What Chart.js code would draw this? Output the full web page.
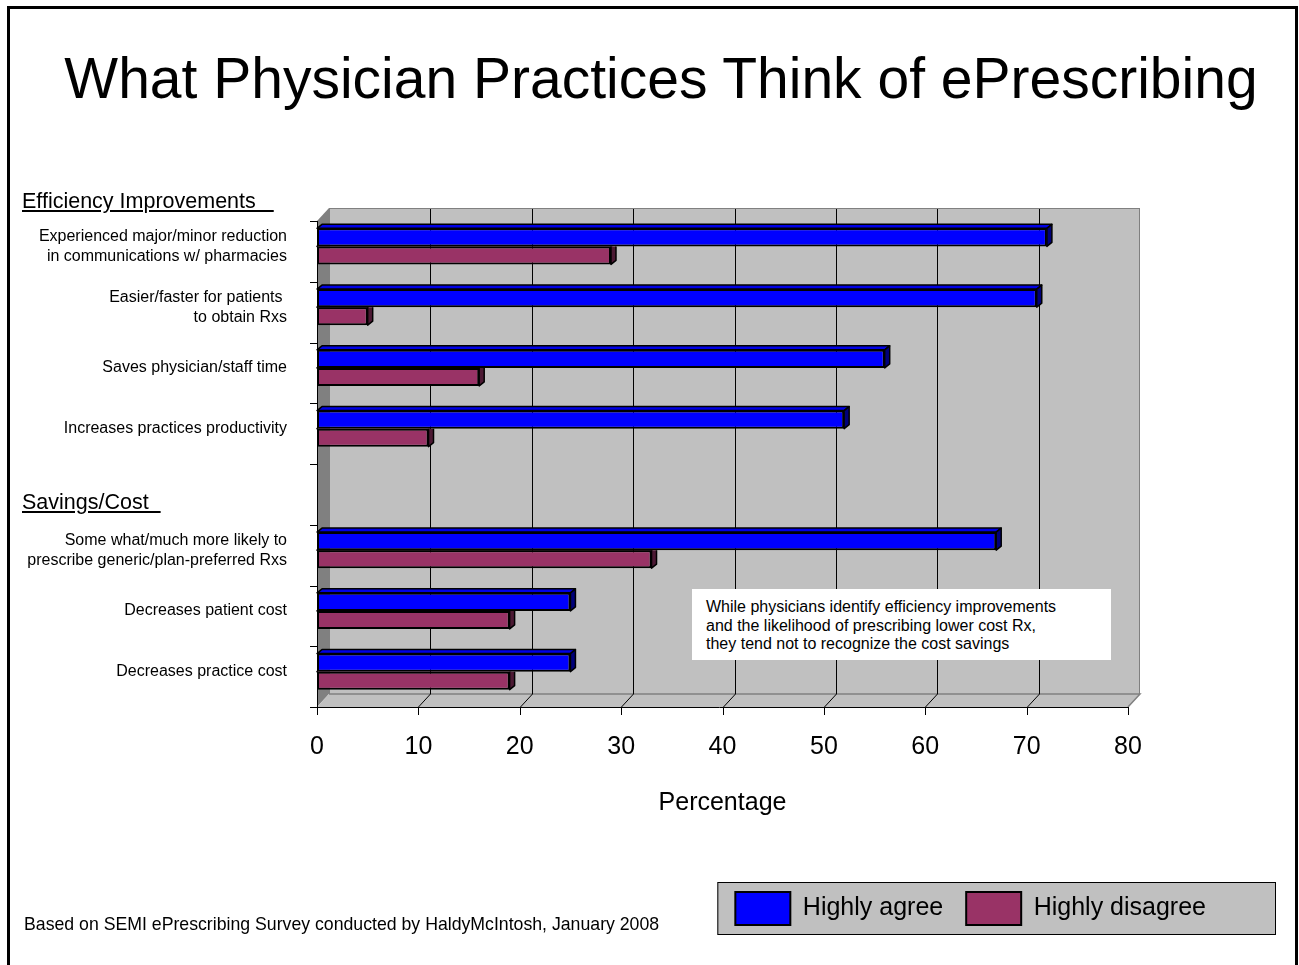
<!DOCTYPE html>
<html>
<head>
<meta charset="utf-8">
<script src="https://cdn.jsdelivr.net/npm/chart.js@4.4.1/dist/chart.umd.min.js"></script>
<style>
  html, body { margin: 0; padding: 0; background: #fff; width: 1299px; height: 965px; overflow: hidden; }
  body { position: relative; font-family: 'Liberation Sans', Arial, sans-serif; color: #000; }
  #c { position: absolute; left: 0; top: 0; }
  .ov { position: absolute; z-index: 2; white-space: pre; pointer-events: none; }
  #frame { left: 7px; top: 6px; width: 1291px; height: 1010px; border: 3px solid #000; box-sizing: border-box; }
  #title { left: 661px; top: 50px; font-size: 57px; line-height: 57px; transform: translateX(-50%); }
  .hdr { left: 22px; font-size: 21.5px; line-height: 21.5px; text-decoration: underline; }
  #foot { left: 24px; top: 915px; font-size: 17.7px; line-height: 18px; }
  #note { left: 692px; top: 589px; width: 419px; height: 71px; background: #fff; box-sizing: border-box;
          padding: 9px 0 0 14px; font-size: 16px; line-height: 18.5px; }
</style>
</head>
<body>
<canvas id="c" width="1299" height="965"></canvas>
<div id="frame" class="ov"></div>
<div id="title" class="ov">What Physician Practices Think of ePrescribing</div>
<div class="ov hdr" style="top:191px">Efficiency Improvements   </div>
<div class="ov hdr" style="top:492px">Savings/Cost  </div>
<div id="note" class="ov">While physicians identify efficiency improvements
and the likelihood of prescribing lower cost Rx,
they tend not to recognize the cost savings</div>
<div id="foot" class="ov">Based on SEMI ePrescribing Survey conducted by HaldyMcIntosh, January 2008</div>
<script>
// ---- data ----
const categories = [
  ['Experienced major/minor reduction', 'in communications w/ pharmacies'],
  ['Easier/faster for patients ', 'to obtain Rxs'],
  'Saves physician/staff time',
  'Increases practices productivity',
  '',
  ['Some what/much more likely to', 'prescribe generic/plan-preferred Rxs'],
  'Decreases patient cost',
  'Decreases practice cost'
];
const highlyAgree    = [72, 71, 56, 52, null, 67, 25, 25];
const highlyDisagree = [29,  5, 16, 11, null, 33, 19, 19];
const seriesNames = ['Highly agree', 'Highly disagree'];
const xMin = 0, xMax = 80, xStep = 10;
const xTitle = 'Percentage';

// ---- 3D look constants ----
const WALL_DX = 12, WALL_DY = 13;   // depth of the back wall
const FRONT_DY = 5;                 // front axis plane below bar plane
const BAR_DX = 5, BAR_DY = 4;       // bar depth

Chart.defaults.font.family = "'Liberation Sans', Arial, sans-serif";
Chart.defaults.color = '#000';

const threeD = {
  id: 'threeD',
  beforeDraw(chart) {
    const lg = chart.legend;
    if (!lg || !lg.legendHitBoxes || !lg.legendHitBoxes.length) return;
    const ctx = chart.ctx;
    const hb = lg.legendHitBoxes[0];
    const l = hb.left - 18, r = chart.width - 23, t = lg.top + 13, b = lg.bottom;
    ctx.save();
    ctx.fillStyle = '#C0C0C0';
    ctx.fillRect(l, t, r - l, b - t);
    ctx.strokeStyle = '#000';
    ctx.lineWidth = 1;
    ctx.strokeRect(l + 0.5, t + 0.5, r - l - 1, b - t - 1);
    ctx.restore();
  },
  beforeDatasetsDraw(chart) {
    const {ctx, chartArea: ca, scales: {x: xs, y: ys}} = chart;
    const fl = ca.left, fr = ca.right, ft = ca.top + FRONT_DY, fb = ca.bottom + FRONT_DY;
    const bl = fl + WALL_DX, br = fr + WALL_DX, bt = ft - WALL_DY, bb = fb - WALL_DY;
    ctx.save();
    ctx.fillStyle = '#C0C0C0';
    ctx.fillRect(bl, bt, br - bl, bb - bt);
    ctx.strokeStyle = '#808080';
    ctx.lineWidth = 1;
    ctx.strokeRect(bl + 0.5, bt + 0.5, br - bl - 1, bb - bt);
    ctx.fillStyle = '#808080';
    ctx.beginPath();
    ctx.moveTo(fl, ft); ctx.lineTo(bl, bt); ctx.lineTo(bl, bb); ctx.lineTo(fl, fb); ctx.closePath();
    ctx.fill();
    ctx.fillStyle = '#C0C0C0';
    ctx.beginPath();
    ctx.moveTo(fl, fb); ctx.lineTo(bl, bb); ctx.lineTo(br, bb); ctx.lineTo(fr, fb); ctx.closePath();
    ctx.fill();
    ctx.strokeStyle = '#808080';
    ctx.lineWidth = 1.5;
    ctx.beginPath();
    ctx.moveTo(bl, bb); ctx.lineTo(br, bb); ctx.lineTo(fr, fb);
    ctx.stroke();
    ctx.strokeStyle = '#000';
    ctx.lineWidth = 1;
    xs.ticks.forEach(t => {
      if (t.value <= xMin || t.value >= xMax) return;
      const px = Math.round(xs.getPixelForValue(t.value)) + 0.5;
      ctx.beginPath();
      ctx.moveTo(px + WALL_DX, bt + 1); ctx.lineTo(px + WALL_DX, bb);
      ctx.lineTo(px, fb);
      ctx.stroke();
    });
    ctx.lineWidth = 1;
    ctx.beginPath();
    ctx.moveTo(fl - 6, Math.round(fb) + 0.5); ctx.lineTo(fr, Math.round(fb) + 0.5);
    ctx.moveTo(Math.round(fl) + 0.5, ft); ctx.lineTo(Math.round(fl) + 0.5, fb);
    xs.ticks.forEach(t => {
      const px = Math.round(xs.getPixelForValue(t.value)) + 0.5;
      ctx.moveTo(px, fb); ctx.lineTo(px, fb + 8);
    });
    const slot = ys.getPixelForValue(1) - ys.getPixelForValue(0);
    for (let i = 0; i <= chart.data.labels.length; i++) {
      const py = Math.round(ys.getPixelForValue(i) - slot / 2 + FRONT_DY) + 0.5;
      ctx.moveTo(fl - 7, py); ctx.lineTo(fl, py);
    }
    ctx.stroke();
    ctx.restore();
  },
  afterDatasetsDraw(chart) {
    const ctx = chart.ctx;
    const n = chart.data.datasets.length;
    for (let d = n - 1; d >= 0; d--) {
      const meta = chart.getDatasetMeta(d);
      const ds = chart.data.datasets[d];
      const prevMeta = d > 0 ? chart.getDatasetMeta(d - 1) : null;
      meta.data.forEach((el, i) => {
        const p = el.getProps(['x', 'y', 'base', 'height'], true);
        if (!Number.isFinite(p.x) || ds.data[i] == null) return;
        const left = p.base, right = p.x, top = p.y - p.height / 2, bottom = p.y + p.height / 2;
        ctx.save();
        if (prevMeta && prevMeta.data[i]) {
          const q = prevMeta.data[i].getProps(['x', 'y', 'base', 'height'], true);
          if (Number.isFinite(q.x)) {
            ctx.beginPath();
            ctx.rect(0, 0, chart.width, chart.height);
            ctx.rect(q.base, q.y - q.height / 2, q.x - q.base, q.height);
            ctx.clip('evenodd');
          }
        }
        ctx.strokeStyle = '#000';
        ctx.lineWidth = 1.5;
        ctx.lineJoin = 'round';
        ctx.fillStyle = ds.topColor;
        ctx.beginPath();
        ctx.moveTo(left, top); ctx.lineTo(left + BAR_DX, top - BAR_DY);
        ctx.lineTo(right + BAR_DX, top - BAR_DY); ctx.lineTo(right, top); ctx.closePath();
        ctx.fill(); ctx.stroke();
        ctx.fillStyle = ds.sideColor;
        ctx.beginPath();
        ctx.moveTo(right, top); ctx.lineTo(right + BAR_DX, top - BAR_DY);
        ctx.lineTo(right + BAR_DX, bottom - BAR_DY); ctx.lineTo(right, bottom); ctx.closePath();
        ctx.fill(); ctx.stroke();
        ctx.restore();
      });
    }
  }
};

new Chart(document.getElementById('c'), {
  type: 'bar',
  data: {
    labels: categories,
    datasets: [
      { label: seriesNames[0], data: highlyAgree, backgroundColor: '#0000FF', borderColor: '#000',
        borderWidth: 2, borderSkipped: false, topColor: '#0000E6', sideColor: '#00007A', xAxisID: 'x', yAxisID: 'y' },
      { label: seriesNames[1], data: highlyDisagree, backgroundColor: '#993366', borderColor: '#000',
        borderWidth: 2, borderSkipped: false, topColor: '#993366', sideColor: '#4C1933', xAxisID: 'x', yAxisID: 'y' }
    ]
  },
  options: {
    indexAxis: 'y',
    responsive: false,
    animation: false,
    devicePixelRatio: 1,
    layout: { padding: { top: 216, right: 70, bottom: 30, left: 0 } },
    datasets: { bar: { categoryPercentage: 0.5926, barPercentage: 1 } },
    scales: {
      y: {
        type: 'category', position: 'left',
        ticks: { color: '#000', font: { size: 16, lineHeight: 1.25 }, padding: 30, autoSkip: false },
        grid: { display: false, drawTicks: false }, border: { display: false },
        afterFit: s => { s.width = 317; }
      },
      yR: {
        type: 'category', position: 'right', display: true,
        ticks: { display: false }, grid: { display: false, drawTicks: false }, border: { display: false },
        afterFit: s => { s.width = 101; }
      },
      x: {
        type: 'linear', position: 'bottom', min: xMin, max: xMax,
        ticks: { stepSize: xStep, color: '#000', font: { size: 25 }, padding: 30, maxRotation: 0 },
        grid: { display: false, drawTicks: false }, border: { display: false },
        title: { display: true, text: xTitle, color: '#000', font: { size: 25 }, padding: { top: 0, bottom: 51 } },
        afterFit: s => { s.height = 167; }
      }
    },
    plugins: {
      legend: {
        position: 'bottom', align: 'end',
        labels: { boxWidth: 55, boxHeight: 33, padding: 23, color: '#000', font: { size: 25 } }
      },
      tooltip: { enabled: false }
    }
  },
  plugins: [threeD]
});
</script>
</body>
</html>
